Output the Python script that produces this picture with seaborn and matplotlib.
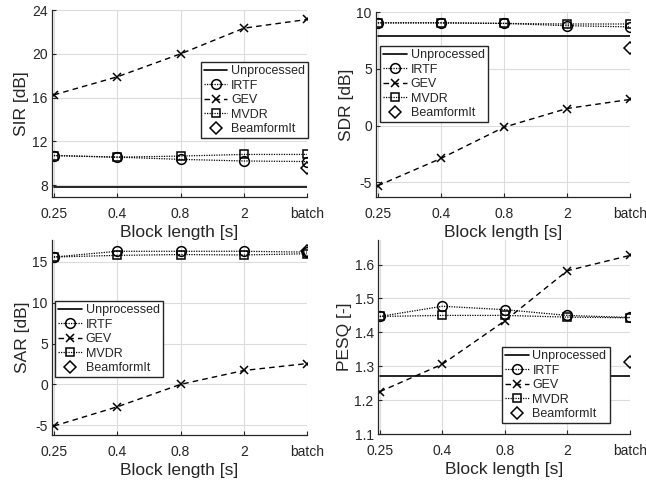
import seaborn as sns
import pandas as pd
import numpy as np
import matplotlib.pyplot as plt
from matplotlib.lines import Line2D

blocks = ['0.25', '0.4', '0.8', '2', 'batch']

sir_unproc = 7.85
sir_irtf = [10.7, 10.55, 10.35, 10.2, 10.15]
sir_gev = [16.25, 17.9, 20.0, 22.35, 23.15]
sir_mvdr = [10.7, 10.55, 10.65, 10.8, 10.8]
sir_beamformit = 9.6

sdr_unproc = 7.85
sdr_irtf = [9.05, 9.05, 9.0, 8.8, 8.7]
sdr_gev = [-5.3, -2.9, -0.15, 1.5, 2.3]
sdr_mvdr = [9.05, 9.05, 9.0, 8.95, 8.95]
sdr_beamformit = 6.8

sar_irtf = [15.6, 16.3, 16.3, 16.3, 16.2]
sar_gev = [-5.1, -2.75, 0.0, 1.7, 2.55]
sar_mvdr = [15.6, 15.8, 15.9, 15.85, 16.0]
sar_beamformit = 16.3

pesq_unproc = 1.27
pesq_irtf = [1.447, 1.477, 1.467, 1.45, 1.444]
pesq_gev = [1.225, 1.306, 1.434, 1.582, 1.627]
pesq_mvdr = [1.447, 1.45, 1.45, 1.445, 1.443]
pesq_beamformit = 1.313

sns.set_style('whitegrid')
plt.rcParams['font.family'] = ['Liberation Sans', 'DejaVu Sans']
plt.rcParams['axes.unicode_minus'] = False

ink = '#262626'
dot = (0, (1, 1))
dash = (0, (4, 3))
styles = {
    'Unprocessed': dict(linestyle='-', marker=None, ms=0, lw=1.2),
    'IRTF': dict(linestyle=dot, marker='o', ms=7, lw=0.9),
    'GEV': dict(linestyle=dash, marker='x', ms=6, lw=1.0),
    'MVDR': dict(linestyle=dot, marker='s', ms=5.5, lw=0.9),
    'BeamformIt': dict(linestyle='none', marker='D', ms=6.5, lw=1.0),
}

panels = [
    ('SIR [dB]', sir_unproc, sir_irtf, sir_gev, sir_mvdr, sir_beamformit,
     [8, 12, 16, 20, 24], (6.9, 24), [0.0805, 0.592, 0.395, 0.387], (0.582, 0.722)),
    ('SDR [dB]', sdr_unproc, sdr_irtf, sdr_gev, sdr_mvdr, sdr_beamformit,
     [-5, 0, 5, 10], (-6.3, 10), [0.582, 0.592, 0.393, 0.383], (0.016, 0.816)),
    ('SAR [dB]', None, sar_irtf, sar_gev, sar_mvdr, sar_beamformit,
     [-5, 0, 5, 10, 15], (-6.2, 17.7), [0.0805, 0.0994, 0.395, 0.404], (0.012, 0.687)),
    ('PESQ [-]', pesq_unproc, pesq_irtf, pesq_gev, pesq_mvdr, pesq_beamformit,
     [1.1, 1.2, 1.3, 1.4, 1.5, 1.6], (1.1, 1.673), [0.585, 0.1014, 0.390, 0.402], (0.492, 0.448)),
]

fig = plt.figure(figsize=(6.46, 4.83), dpi=100)
pos = np.arange(len(blocks))

for ylab, unproc, irtf, gev, mvdr, bfi, yt, yl, rect, leg_xy in panels:
    ax = fig.add_axes(rect)
    if unproc is not None:
        sns.lineplot(x=pos, y=[unproc] * len(blocks), ax=ax, color='k',
                     linestyle='-', lw=1.2)
    for name, vals in [('IRTF', irtf), ('GEV', gev), ('MVDR', mvdr)]:
        st = styles[name]
        sns.lineplot(x=pos, y=vals, ax=ax, color='k', linestyle=st['linestyle'],
                     lw=st['lw'], marker=st['marker'], markersize=st['ms'],
                     markerfacecolor='none', markeredgecolor='k',
                     markeredgewidth=1.1, sort=False)
    st = styles['BeamformIt']
    ax.plot([pos[-1]], [bfi], linestyle='none', marker='D', markersize=st['ms'],
            markerfacecolor='none', markeredgecolor='k', markeredgewidth=1.1)

    ax.set_xlim(-0.03, 4.0)
    ax.set_ylim(*yl)
    ax.set_xticks(pos)
    ax.set_xticklabels(blocks)
    ax.set_yticks(yt)
    ax.set_xlabel('Block length [s]', fontsize=12.5, color=ink, labelpad=3)
    ax.set_ylabel(ylab, fontsize=12.5, color=ink, labelpad=2)
    ax.tick_params(axis='both', labelsize=10, colors=ink, direction='in',
                   length=3, width=0.8, bottom=True, left=True)
    ax.tick_params(axis='x', pad=7)
    ax.tick_params(axis='y', pad=3)
    ax.grid(True, color='#dcdcdc', lw=0.8)
    sns.despine(ax=ax, top=True, right=True)
    for s in ['left', 'bottom']:
        ax.spines[s].set_color(ink)
        ax.spines[s].set_linewidth(0.9)

    handles = []
    for name in ['Unprocessed', 'IRTF', 'GEV', 'MVDR', 'BeamformIt']:
        st = styles[name]
        handles.append(Line2D([], [], color='k', linestyle=st['linestyle'],
                              lw=st['lw'], marker=st['marker'],
                              markersize=st['ms'], markerfacecolor='none',
                              markeredgecolor='k', markeredgewidth=1.1, label=name))
    leg = ax.legend(handles=handles, loc='upper left', bbox_to_anchor=leg_xy,
                    fontsize=9, frameon=True, fancybox=False, framealpha=1,
                    edgecolor=ink, borderpad=0.25, labelspacing=0.2,
                    handlelength=1.9, handletextpad=0.3, borderaxespad=0)
    leg.get_frame().set_linewidth(1.0)

fig.savefig('out.png', dpi=100)
